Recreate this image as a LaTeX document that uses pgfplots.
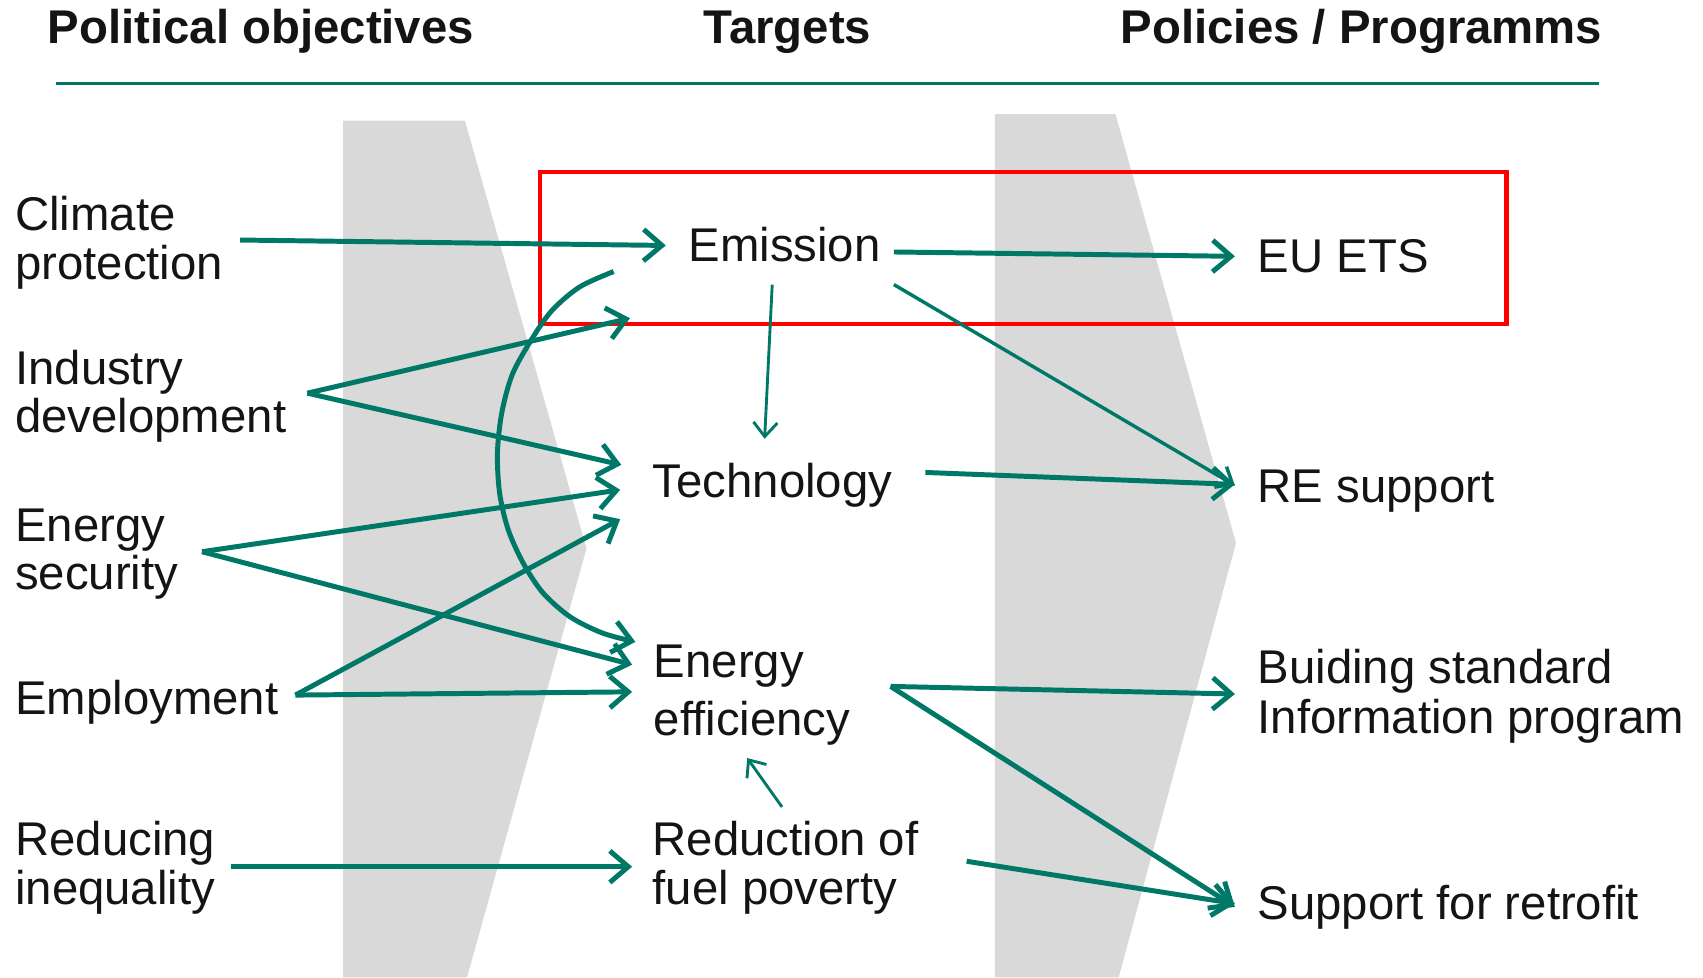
\documentclass[border=0pt]{standalone}
\usepackage{fontspec}
\setmainfont{Liberation Sans}
\usepackage{pgfplots}
\pgfplotsset{compat=1.18}
\usetikzlibrary{arrows.meta}

\definecolor{arrteal}{RGB}{0,120,104}
\definecolor{chev}{RGB}{217,217,217}
\definecolor{txt}{RGB}{20,20,20}

\begin{document}
\begin{tikzpicture}[
  lab/.style={font=\fontsize{12.4}{13}\selectfont,text=txt,anchor=base west,inner sep=0pt,outer sep=0pt},
  hdr/.style={lab,font=\fontsize{12.4}{13}\selectfont\bfseries}]
\begin{axis}[scale only axis,width=15.68cm,height=9cm,
  xmin=0,xmax=1568,ymin=0,ymax=900,y dir=reverse,
  hide axis,clip=false,
  thk/.style={arrteal,line width=1.3pt,-{Straight Barb[length=1.7mm,width=2.9mm]}},
  thn/.style={arrteal,line width=0.75pt,-{Straight Barb[length=1.3mm,width=2.2mm]}}]

\path (0,0) rectangle (1568,900);

% grey chevrons
\addplot[fill=chev,draw=none] coordinates {(316,111) (428,111) (540,505) (430,900) (316,900)};
\addplot[fill=chev,draw=none] coordinates {(916,105) (1027,105) (1138,500) (1030,900) (916,900)};

% header
\node[hdr] at (44,40) {Political objectives};
\node[hdr] at (648,40) {Targets};
\node[hdr] at (1032,40) {Policies / Programms};
\addplot[arrteal,line width=0.6pt] coordinates {(52,77) (1472,77)};

% red frame
\addplot[red,line width=1.1pt,line cap=rect] coordinates {(497,158) (1387,158) (1387,298) (497,298) (497,158)};

% political objectives
\node[lab] at (14,212) {Climate};
\node[lab] at (14,257) {protection};
\node[lab] at (14,354) {Industry};
\node[lab] at (14,398) {development};
\node[lab] at (14,499) {Energy};
\node[lab] at (14,543) {security};
\node[lab] at (14,658) {Employment};
\node[lab] at (14,788) {Reducing};
\node[lab] at (14,833) {inequality};

% targets
\node[lab] at (634,241) {Emission};
\node[lab] at (601,458) {Technology};
\node[lab] at (602,624) {Energy};
\node[lab] at (602,677) {efficiency};
\node[lab] at (601,788) {Reduction of};
\node[lab] at (601,833) {fuel poverty};

% policies
\node[lab] at (1158,251) {EU ETS};
\node[lab] at (1158,463) {RE support};
\node[lab] at (1158,629) {Buiding standard};
\node[lab] at (1158,675) {Information program};
\node[lab] at (1158,847) {Support for retrofit};

% objectives -> targets
\addplot[thk] coordinates {(221,221) (613,226)};
\addplot[thk] coordinates {(283,362) (580,293)};
\addplot[thk] coordinates {(283,362) (572,428)};
\addplot[thk] coordinates {(186,508) (571,451)};
\addplot[thk] coordinates {(186,508) (582,612)};
\addplot[thk] coordinates {(272,640) (571,478)};
\addplot[thk] coordinates {(272,640) (582,637)};
\addplot[thk] coordinates {(213,798) (582,798)};
\addplot[thk,smooth] coordinates {(565,250) (534,264) (509,285) (491,310) (472,344) (462,380)
  (458,417) (460,454) (468,488) (482,519) (500,546) (525,568) (555,583) (585,591)};

% targets -> targets
\addplot[thn] coordinates {(711,262) (704,404)};
\addplot[thn] coordinates {(720,743) (688,698)};

% targets -> policies
\addplot[thk] coordinates {(823,232) (1137,236)};
\addplot[thn,line width=0.9pt] coordinates {(823,262) (1137,447)};
\addplot[thk] coordinates {(852,435) (1137,446)};
\addplot[thk] coordinates {(820,632) (1137,639)};
\addplot[thk] coordinates {(820,632) (1137,835)};
\addplot[thk] coordinates {(890,793) (1137,832)};
\end{axis}
\end{tikzpicture}
\end{document}
